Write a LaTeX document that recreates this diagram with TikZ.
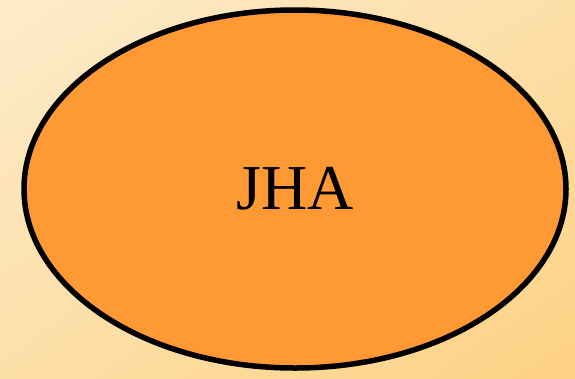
\documentclass[tikz,border=0pt]{standalone}
\usepackage{fontspec}
\setmainfont{Liberation Serif}
\usetikzlibrary{shapes.geometric, shadings, positioning}
\definecolor{bgLight}{HTML}{FDEBCB}
\definecolor{bgMid}{HTML}{FDDFA8}
\definecolor{bgDark}{HTML}{FDD184}
\definecolor{nodeOrange}{HTML}{FF9933}
\tikzset{
	blob/.style={ellipse, draw=black, line width=5.5pt, fill=nodeOrange, align=center, minimum width=542pt, minimum height=358pt, inner sep=0pt, font=\fontsize{64}{72}\selectfont}
}

\begin{document}
\begin{tikzpicture}[x=1pt, y=-1pt]
        % background
        \shade[upper left=bgLight, upper right=bgMid, lower left=bgMid, lower right=bgDark] (0,0) rectangle (575,378);
        \useasboundingbox (0,0) rectangle (575,378);

        \node[blob] (jha) at (295, 189) {JHA};
    \end{tikzpicture}
\end{document}
